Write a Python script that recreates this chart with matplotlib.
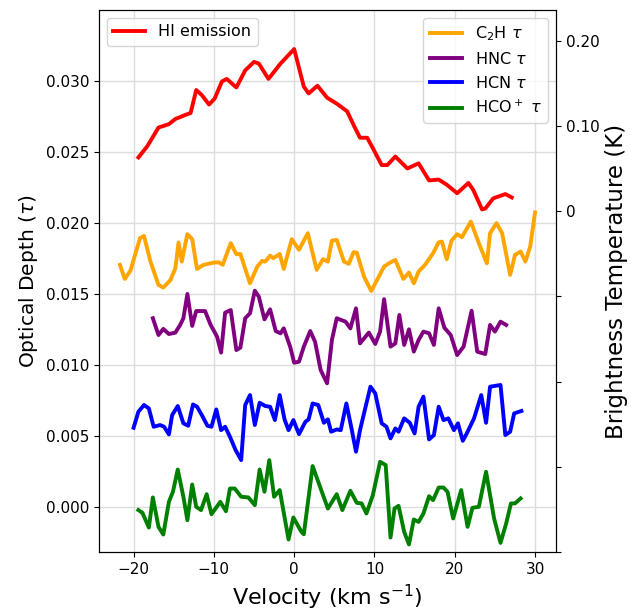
import matplotlib.pyplot as plt
import numpy as np

# HI emission (brightness temperature, K) - right axis
v_hi = [-19.4, -18.3, -16.9, -15.6, -14.8, -13.5, -12.9, -12.2, -11.5, -10.6, -9.9, -9.0, -8.4,
        -7.2, -6.1, -5.0, -4.4, -3.2, -1.7, 0.0, 1.2, 1.8, 2.9, 4.1, 5.3, 6.6, 7.4, 8.2, 9.1,
        9.9, 10.9, 11.6, 12.6, 14.1, 15.5, 16.8, 18.0, 19.0, 20.3, 21.7, 22.3, 23.4, 23.8,
        24.8, 26.3, 27.1]
T_hi = [0.063, 0.076, 0.098, 0.102, 0.108, 0.113, 0.115, 0.142, 0.136, 0.125, 0.132, 0.152, 0.155,
        0.145, 0.165, 0.175, 0.173, 0.155, 0.173, 0.190, 0.146, 0.138, 0.147, 0.133, 0.126, 0.117,
        0.101, 0.086, 0.086, 0.072, 0.054, 0.054, 0.064, 0.050, 0.056, 0.036, 0.037, 0.031,
        0.021, 0.033, 0.025, 0.002, 0.003, 0.015, 0.020, 0.016]

# C2H optical depth
v_c2h = [-21.7, -21.1, -20.4, -19.2, -18.7, -17.9, -16.9, -16.3, -15.4, -14.8, -14.4, -14.0, -13.3,
         -12.7, -12.1, -11.3, -10.0, -9.4, -8.9, -7.9, -7.2, -6.7, -5.5, -4.6, -4.0, -3.6, -3.0,
         -2.6, -1.8, -1.3, -0.3, 0.6, 1.7, 2.8, 3.6, 4.2, 4.7, 5.3, 6.2, 6.8, 7.4, 7.8, 8.7,
         9.6, 11.2, 11.8, 12.6, 13.6, 14.3, 14.9, 15.5, 16.3, 17.3, 18.0, 18.4, 19.0, 19.6,
         20.3, 20.9, 22.0, 23.0, 24.0, 24.4, 25.2, 25.9, 26.9, 27.5, 28.2, 28.8, 29.4, 30.0]
tau_c2h = [0.01704, 0.01605, 0.01662, 0.01892, 0.01908, 0.01727, 0.01563, 0.01544, 0.01598,
           0.01680, 0.01861, 0.01727, 0.01920, 0.01885, 0.01675, 0.01704, 0.01720, 0.01722,
           0.01704, 0.01857, 0.01779, 0.01781, 0.01574, 0.01692, 0.01732, 0.01727, 0.01769,
           0.01751, 0.01781, 0.01675, 0.01885, 0.01810, 0.01927, 0.01669, 0.01744, 0.01727,
           0.01875, 0.01880, 0.01727, 0.01711, 0.01793, 0.01790, 0.01621, 0.01520, 0.01692,
           0.01715, 0.01739, 0.01605, 0.01650, 0.01574, 0.01657, 0.01704, 0.01786, 0.01863,
           0.01868, 0.01744, 0.01875, 0.01920, 0.01899, 0.02009, 0.01857, 0.01715, 0.01927,
           0.01998, 0.01927, 0.01633, 0.01774, 0.01798, 0.01727, 0.01833, 0.02073]

# HNC optical depth
v_hnc = [-17.6, -16.9, -16.3, -15.6, -14.8, -14.2, -13.8, -13.3, -12.7, -12.2, -11.1, -10.4, -9.6,
         -9.1, -8.6, -7.9, -7.2, -6.7, -6.1, -5.5, -4.9, -4.4, -3.7, -3.0, -2.3, -1.7, -1.3,
         -0.5, 0.0, 0.6, 1.2, 2.0, 2.6, 3.3, 4.1, 4.7, 5.3, 6.4, 7.0, 7.7, 8.2, 9.3, 10.1,
         10.7, 11.2, 12.0, 12.6, 13.1, 13.7, 14.3, 14.9, 15.5, 16.1, 16.8, 17.4, 18.0, 18.7,
         19.5, 20.3, 21.1, 22.1, 22.8, 23.8, 24.4, 25.0, 25.7, 26.4]
tau_hnc = [0.01328, 0.01210, 0.01253, 0.01217, 0.01227, 0.01281, 0.01328, 0.01499, 0.01274,
           0.01379, 0.01379, 0.01281, 0.01198, 0.01086, 0.01367, 0.01386, 0.01104, 0.01121,
           0.01328, 0.01363, 0.01522, 0.01480, 0.01320, 0.01391, 0.01238, 0.01222, 0.01257,
           0.01128, 0.01015, 0.01022, 0.01128, 0.01238, 0.01163, 0.00963, 0.00870, 0.01175,
           0.01328, 0.01304, 0.01257, 0.01398, 0.01151, 0.01227, 0.01147, 0.01234, 0.01462,
           0.01128, 0.01151, 0.01351, 0.01140, 0.01250, 0.01093, 0.01175, 0.01234, 0.01222,
           0.01140, 0.01398, 0.01262, 0.01210, 0.01069, 0.01128, 0.01381, 0.01093, 0.01076,
           0.01281, 0.01234, 0.01304, 0.01281]

# HCN optical depth
v_hcn = [-20.0, -19.4, -18.7, -18.1, -17.5, -16.7, -16.2, -15.6, -15.2, -14.5, -13.8, -13.2, -12.6,
         -12.1, -11.5, -10.8, -10.3, -9.7, -9.1, -8.6, -8.0, -7.3, -6.6, -6.1, -5.5, -4.9, -4.3,
         -3.6, -3.0, -2.4, -1.8, -1.2, -0.7, -0.1, 0.6, 1.4, 1.8, 2.3, 3.0, 3.7, 4.2, 4.6, 5.3,
         5.8, 6.5, 7.1, 7.7, 8.2, 8.9, 9.5, 10.1, 10.9, 11.5, 12.0, 12.6, 13.0, 13.7, 14.4,
         15.0, 15.5, 16.1, 16.8, 17.4, 18.0, 18.6, 19.2, 19.9, 20.4, 21.0, 21.5, 22.4, 23.3,
         23.9, 24.4, 25.7, 26.3, 26.9, 27.4, 28.3]
tau_hcn = [0.00557, 0.00670, 0.00717, 0.00693, 0.00564, 0.00576, 0.00564, 0.00510, 0.00646,
           0.00710, 0.00588, 0.00571, 0.00721, 0.00705, 0.00646, 0.00571, 0.00564, 0.00686,
           0.00540, 0.00564, 0.00494, 0.00400, 0.00329, 0.00717, 0.00787, 0.00576, 0.00733,
           0.00710, 0.00705, 0.00611, 0.00787, 0.00616, 0.00540, 0.00611, 0.00512, 0.00599,
           0.00616, 0.00728, 0.00717, 0.00592, 0.00616, 0.00529, 0.00545, 0.00540, 0.00728,
           0.00564, 0.00388, 0.00540, 0.00705, 0.00846, 0.00799, 0.00588, 0.00564, 0.00482,
           0.00552, 0.00529, 0.00623, 0.00592, 0.00517, 0.00705, 0.00776, 0.00475, 0.00505,
           0.00705, 0.00611, 0.00623, 0.00540, 0.00588, 0.00465, 0.00517, 0.00623, 0.00787,
           0.00592, 0.00846, 0.00858, 0.00505, 0.00529, 0.00658, 0.00675]

# HCO+ optical depth
v_hco = [-19.4, -18.9, -18.1, -17.6, -16.9, -16.3, -15.6, -15.1, -14.5, -13.8, -13.3, -12.7, -12.2,
         -11.6, -10.9, -10.3, -9.2, -8.5, -8.0, -7.4, -6.6, -5.7, -4.9, -4.3, -3.7, -3.1, -2.5,
         -1.8, -0.7, -0.1, 0.9, 1.2, 2.3, 3.3, 4.2, 5.3, 6.0, 7.0, 7.8, 8.4, 9.0, 9.8, 10.7,
         11.4, 12.0, 12.5, 13.0, 13.7, 14.3, 14.9, 15.5, 16.1, 16.8, 17.3, 18.0, 18.6, 19.1,
         19.8, 20.8, 21.6, 22.2, 23.0, 23.9, 24.9, 25.7, 26.4, 27.0, 27.5, 28.2]
tau_hco = [-0.00023, -0.00042, -0.00146, 0.00066, -0.00141, -0.00195, 0.00035, 0.00106, 0.00263,
           0.00071, -0.00094, 0.00157, 0.0, -0.00023, 0.00089, -0.00052, 0.00035, -0.00031,
           0.00129, 0.00129, 0.00071, 0.00066, 0.00012, 0.00263, 0.00106, 0.00329, 0.00071,
           0.00118, -0.00230, -0.00075, -0.00176, -0.00193, 0.00287, 0.00129, -0.00012, 0.00089,
           -0.00023, 0.00113, 0.00028, 0.00024, -0.00047, 0.00082, 0.00317, 0.00294, -0.00216,
           -0.00012, 0.00007, -0.00176, -0.00265, -0.00089, -0.00106, -0.00047, 0.00075,
           0.00047, 0.00136, 0.00136, 0.00106, -0.00082, 0.00118, -0.00141, -0.00007, 0.0,
           0.00247, -0.00082, -0.00254, -0.00118, 0.00024, 0.00024, 0.00059]

lw = 2.8

fig, ax = plt.subplots(figsize=(6.31, 6.15), dpi=100)
fig.subplots_adjust(left=0.157, right=0.881, bottom=0.102, top=0.984)

ax.plot(v_c2h, tau_c2h, color='orange', lw=lw, label=r'C$_2$H $\tau$')
ax.plot(v_hnc, tau_hnc, color='purple', lw=lw, label=r'HNC $\tau$')
ax.plot(v_hcn, tau_hcn, color='blue', lw=lw, label=r'HCN $\tau$')
ax.plot(v_hco, tau_hco, color='green', lw=lw, label=r'HCO$^+$ $\tau$')
ax.set_xlim(-24.3, 32.6)
ax.set_ylim(-0.0032, 0.035)
ax.set_xticks([-20, -10, 0, 10, 20, 30])
ax.set_yticks([0.0, 0.005, 0.010, 0.015, 0.020, 0.025, 0.030])
ax.grid(True, color='#dddddd', lw=1)
ax.tick_params(labelsize=11)
ax.set_xlabel(r'Velocity (km s$^{-1}$)', fontsize=16)
ax.set_ylabel(r'Optical Depth ($\tau$)', fontsize=14.5)
ax.legend(loc='upper right', fontsize=11.5)

ax2 = ax.twinx()
ax2.plot(v_hi, T_hi, color='red', lw=lw, label='HI emission')
ax2.set_ylim(-0.4, 0.236)
ax2.set_yticks([-0.4, -0.3, -0.2, -0.1, 0, 0.1, 0.2])
ax2.set_yticklabels(['', '', '', '', '0', '0.10', '0.20'])
ax2.tick_params(labelsize=11)
ax2.set_ylabel('Brightness Temperature (K)', fontsize=16.5)
ax2.legend(loc='upper left', fontsize=11.5)

plt.savefig('out.png')
